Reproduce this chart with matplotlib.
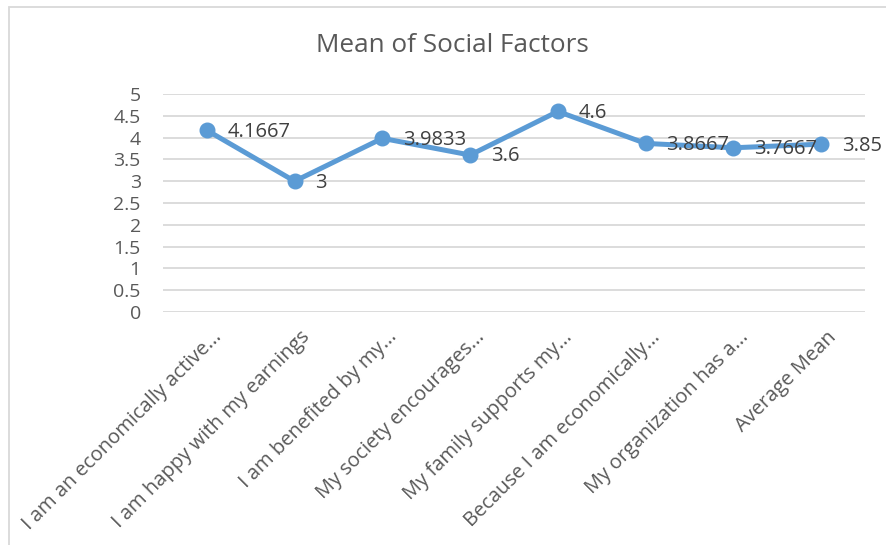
import matplotlib.pyplot as plt
from matplotlib.patches import Rectangle
from matplotlib.transforms import ScaledTranslation

categories = [
    "I am an economically active...",
    "I am happy with my earnings",
    "I am benefited by my...",
    "My society encourages...",
    "My family supports my...",
    "Because I am economically...",
    "My organization has a...",
    "Average Mean",
]
means = [4.1667, 3, 3.9833, 3.6, 4.6, 3.8667, 3.7667, 3.85]
labels = ["4.1667", "3", "3.9833", "3.6", "4.6", "3.8667", "3.7667", "3.85"]
yticks = [0, 0.5, 1, 1.5, 2, 2.5, 3, 3.5, 4, 4.5, 5]

plt.rcParams['font.family'] = ['Open Sans', 'DejaVu Sans']
gray = "#595959"
blue = "#5B9BD5"

fig = plt.figure(figsize=(8.87, 5.45), dpi=100)
ax = fig.add_axes([163/887, 1 - 312/545, 702/887, 218/545])

x = list(range(len(categories)))
ax.plot(x, means, color=blue, linewidth=3.6, marker="o", markersize=10.5, zorder=3)
for xi, yi, lab in zip(x, means, labels):
    ax.annotate(lab, (xi, yi), xytext=(15, -1), textcoords="offset points",
                ha="left", va="center", fontsize=14.5, color="#404040", zorder=4)

ax.set_xlim(-0.5, len(categories) - 0.5)
ax.set_ylim(0, 5)
ax.set_yticks(yticks)
ax.set_yticklabels([f"{t:g}" for t in yticks])
ax.yaxis.grid(True, color="#D9D9D9", linewidth=1.3)
ax.set_axisbelow(True)
ax.tick_params(axis="y", length=0, pad=16, labelsize=14, labelcolor=gray)
ax.tick_params(axis="x", length=0, pad=16, labelsize=14.5, labelcolor=gray)
ax.set_xticks(x)
ax.set_xticklabels(categories, rotation=45, ha="right", va="center", rotation_mode="anchor")
shift = ScaledTranslation(12/100, 0, fig.dpi_scale_trans)
for t in ax.get_xticklabels():
    t.set_transform(t.get_transform() + shift)
for s in ax.spines.values():
    s.set_visible(False)

fig.text(452/887, 1 - 45/545, "Mean of Social Factors", ha="center", va="center",
         fontsize=18.8, color=gray)

fig.patches.append(Rectangle((9/887, -0.1), 1.2, 1 - 7/545 + 0.1, transform=fig.transFigure,
                             fill=False, edgecolor="#D9D9D9", linewidth=1.3))

fig.savefig("out.png", dpi=100)
